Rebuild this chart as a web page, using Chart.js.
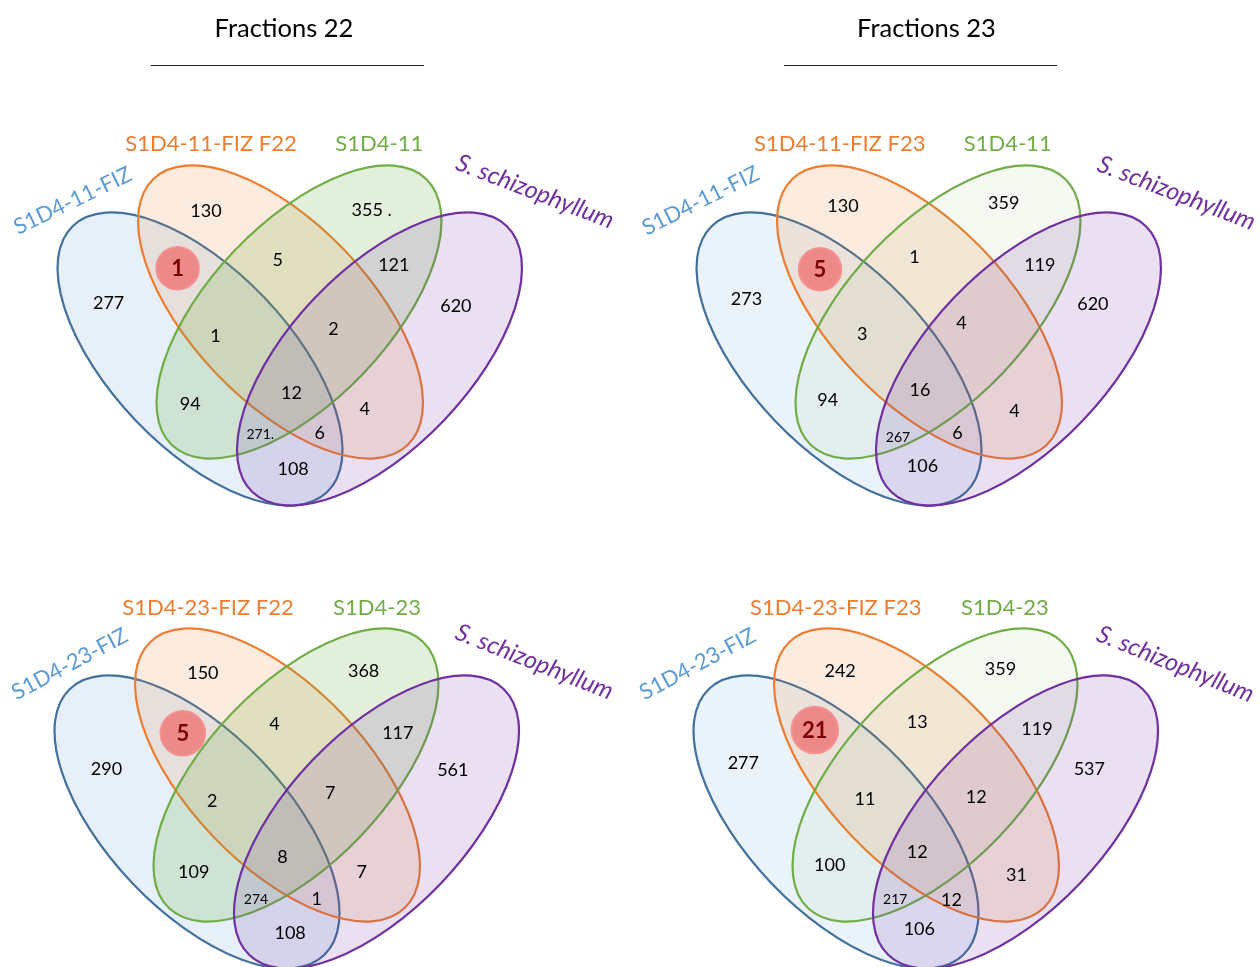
<!DOCTYPE html>
<html><head><meta charset="utf-8">
<script src="https://cdn.jsdelivr.net/npm/chart.js@4.4.0/dist/chart.umd.min.js"></script>
<style>html,body{margin:0;padding:0;background:#fff;overflow:hidden}#wrap{width:1260px;height:967px;position:relative}</style>
</head><body><div id="wrap"><canvas id="c" width="1260" height="967"></canvas></div>
<script>
// ---------- DATA ----------
// Region order: A=blue only, B=orange only, C=green only, D=purple only, AB, BC, CD, ABC, BCD, AC, ABCD, BD, ACD, ABD, AD
const regionKeys = ['A','B','C','D','AB','BC','CD','ABC','BCD','AC','ABCD','BD','ACD','ABD','AD'];
const fractionTitles = ['Fractions 22', 'Fractions 23'];
const setLabels11F22 = ['S1D4-11-FIZ', 'S1D4-11-FIZ F22', 'S1D4-11', 'S. schizophyllum'];
const setLabels11F23 = ['S1D4-11-FIZ', 'S1D4-11-FIZ F23', 'S1D4-11', 'S. schizophyllum'];
const setLabels23F22 = ['S1D4-23-FIZ', 'S1D4-23-FIZ F22', 'S1D4-23', 'S. schizophyllum'];
const setLabels23F23 = ['S1D4-23-FIZ', 'S1D4-23-FIZ F23', 'S1D4-23', 'S. schizophyllum'];
const counts11F22 = [277, 130, 355, 620, 1, 5, 121, 1, 2, 94, 12, 4, 271, 6, 108];
const counts11F23 = [273, 130, 359, 620, 5, 1, 119, 3, 4, 94, 16, 4, 267, 6, 106];
const counts23F22 = [290, 150, 368, 561, 5, 4, 117, 2, 7, 109, 8, 7, 274, 1, 108];
const counts23F23 = [277, 242, 359, 537, 21, 13, 119, 11, 12, 100, 12, 31, 217, 12, 106];
// stray marks printed next to some numbers in the original figure
const textSuffix11F22 = {C: ' .', ACD: '.'};

// ---------- LAYOUT (positions, sizes, styles) ----------
const panelOffsets = [[0,0],[639,0],[-3,463],[636,463]];
const ellipseCenters = [[200,359],[280.5,312],[299,312],[379.5,359]];
const ellipseRot = [46.3, 46.3, -46.3, -46.3];
const ellipseSemiMajor = 184, ellipseSemiMinor = 89;
const strokeColors = ['#41719C','#ED7D31','#70AD47','#7030A0'];
const fillRGB = [[91,155,213],[237,125,49],[112,173,71],[112,48,160]];
const fillAlpha = [[0.15,0.15,0.20,0.15],[0.12,0.15,0.07,0.15],[0.15,0.15,0.20,0.15],[0.12,0.15,0.07,0.15]];
const labelColors = ['#5B9BD5','#ED7D31','#70AD47','#7030A0'];
const regionPos = [
 [[108.6,302.7],[206,211],[371.7,209.3],[455.9,306],[177.6,268.3],[277.6,260],[393.8,265],[215.5,336],[333.4,329],[190.3,403.3],[291.4,392.3],[364.8,408.3],[260.3,434],[319.7,432.7],[293.1,469]],
 [[746.5,298.3],[843,206],[1003.7,202.7],[1092.9,303.3],[820,269.3],[914.5,256.7],[1039.8,265],[862.2,334],[961.5,322.7],[827.7,400],[920,390],[1014.5,410.7],[898,437.3],[957.5,432.7],[922.5,466]],
 [[106.5,768.3],[202.9,672.7],[363.6,670.7],[452.8,770],[182.8,733.3],[274.4,724],[397.8,732.3],[212.1,800.7],[330.3,792.7],[193.7,871.7],[282.5,856.7],[361.6,871.7],[256,899.3],[316.6,898.3],[290.1,932.7]],
 [[743.3,762.7],[840.1,670.7],[1000.5,668.3],[1089.3,768.3],[814.8,730],[917.3,721.7],[1037,729],[865,798.3],[976.3,796.7],[829.7,865],[917.3,851.7],[1016.5,875],[895.2,899.3],[951.4,899.3],[919.3,928.3]]
];
// set label anchor [x, y, rotationDeg]
const setLabelPos = [
 [[72.4,200,-25.8],[211,143.3,0],[379.3,143.3,0],[535,191.5,21]],
 [[700.3,200,-26.5],[839.7,143.3,0],[1007.7,143.3,0],[1176.5,193,21]],
 [[69.3,663.3,-28],[208,607.3,0],[377,607.3,0],[534.4,661.7,21.5]],
 [[697.3,663.3,-28],[835.7,607.3,0],[1004.9,607.3,0],[1175.4,664,22]]
];
const titlePos = [[284,27.7],[926.5,27.7]];
const titleLines = [[150.7,423.9,65],[784,1057,65]];
const circleRadius = [21,21,22,23];

const panelCounts = [counts11F22, counts11F23, counts23F22, counts23F23];
const panelLabels = [setLabels11F22, setLabels11F23, setLabels23F22, setLabels23F23];
const panelSuffix = [textSuffix11F22, {}, {}, {}];

const FONT = 'Lato, "Open Sans", sans-serif';

const vennPlugin = {
  id: 'venn',
  beforeDatasetsDraw(chart) {
    const {ctx, scales: {x, y}} = chart;
    const px = v => x.getPixelForValue(v), py = v => y.getPixelForValue(v);
    const lx = v => Math.abs(px(v) - px(0));
    ctx.save();
    // titles
    ctx.fillStyle = '#000';
    ctx.font = '25.5px ' + FONT;
    ctx.textAlign = 'center';
    ctx.textBaseline = 'alphabetic';
    fractionTitles.forEach((t, i) => {
      ctx.fillText(t, px(titlePos[i][0]), py(titlePos[i][1]) + 9);
      const L = titleLines[i];
      ctx.beginPath();
      ctx.moveTo(px(L[0]), py(L[2]) + 0.5);
      ctx.lineTo(px(L[1]), py(L[2]) + 0.5);
      ctx.strokeStyle = '#222';
      ctx.lineWidth = 1.2;
      ctx.stroke();
    });
    // ellipses
    panelOffsets.forEach((off, p) => {
      ellipseCenters.forEach((c, k) => {
        ctx.beginPath();
        ctx.ellipse(px(c[0] + off[0]), py(c[1] + off[1]), lx(ellipseSemiMajor), lx(ellipseSemiMinor),
          ellipseRot[k] * Math.PI / 180, 0, 2 * Math.PI);
        const f = fillRGB[k];
        ctx.fillStyle = `rgba(${f[0]},${f[1]},${f[2]},${fillAlpha[p][k]})`;
        ctx.fill();
        ctx.lineWidth = 2.2;
        ctx.strokeStyle = strokeColors[k];
        ctx.stroke();
      });
      // set labels
      panelLabels[p].forEach((t, k) => {
        const L = setLabelPos[p][k];
        ctx.save();
        ctx.translate(px(L[0]), py(L[1]));
        ctx.rotate(L[2] * Math.PI / 180);
        ctx.font = (k === 3 ? 'italic 24.5px ' : '22px ') + FONT;
        ctx.fillStyle = labelColors[k];
        ctx.textAlign = 'center';
        ctx.textBaseline = 'alphabetic';
        ctx.fillText(t, 0, 8);
        ctx.restore();
      });
    });
    ctx.restore();
  },
  afterDatasetsDraw(chart) {
    const {ctx} = chart;
    ctx.save();
    ctx.textAlign = 'center';
    ctx.textBaseline = 'alphabetic';
    chart.data.datasets.forEach((ds, p) => {
      const meta = chart.getDatasetMeta(p);
      meta.data.forEach((el, j) => {
        const key = regionKeys[j];
        const raw = ds.data[j];
        let txt = String(raw.v) + (panelSuffix[p][key] || '');
        if (key === 'AB') {
          ctx.beginPath();
          ctx.arc(el.x, el.y, circleRadius[p], 0, 2 * Math.PI);
          ctx.fillStyle = 'rgba(238,105,105,0.72)';
          ctx.fill();
          ctx.lineWidth = 2.5;
          ctx.strokeStyle = 'rgba(245,140,140,0.9)';
          ctx.stroke();
          ctx.font = 'bold 22px ' + FONT;
          ctx.fillStyle = '#7A0000';
          ctx.fillText(txt, el.x, el.y + 8);
        } else {
          const size = key === 'ACD' ? 14 : 18;
          ctx.font = size + 'px ' + FONT;
          ctx.fillStyle = '#000';
          ctx.fillText(txt, el.x, el.y + size * 0.36);
        }
      });
    });
    ctx.restore();
  }
};

function build() {
  const datasets = panelCounts.map((counts, p) => ({
    label: 'panel' + p,
    data: counts.map((v, j) => ({x: regionPos[p][j][0], y: regionPos[p][j][1], v: v})),
    pointRadius: 0,
    showLine: false
  }));
  new Chart(document.getElementById('c'), {
    type: 'scatter',
    data: {datasets},
    options: {
      responsive: false,
      animation: false,
      devicePixelRatio: 1,
      layout: {padding: 0},
      events: [],
      plugins: {legend: {display: false}, tooltip: {enabled: false}, title: {display: false}},
      scales: {
        x: {type: 'linear', min: 0, max: 1260, display: false},
        y: {type: 'linear', min: 0, max: 967, reverse: true, display: false}
      }
    },
    plugins: [vennPlugin]
  });
}
if (document.fonts && document.fonts.load) {
  Promise.all([document.fonts.load('18px Lato'), document.fonts.load('bold 22px Lato'), document.fonts.load('italic 24px Lato')])
    .then(build, build);
} else build();
</script></body></html>
